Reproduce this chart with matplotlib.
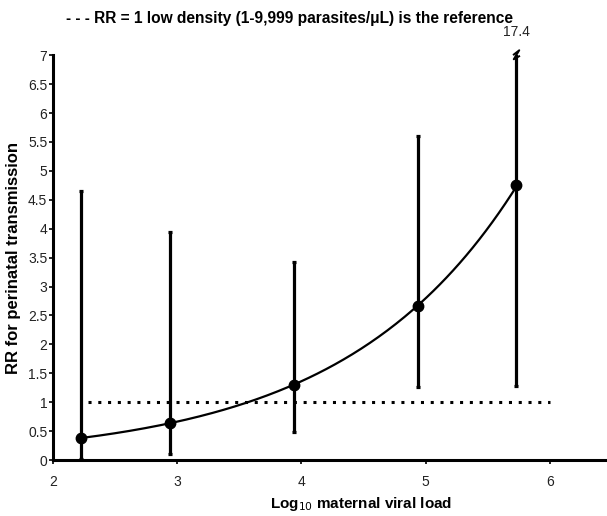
import numpy as np
import matplotlib
matplotlib.use("Agg")
import matplotlib.pyplot as plt
from matplotlib.path import Path

plt.rcParams['font.family'] = ['Liberation Sans', 'DejaVu Sans']

# log10 maternal viral load (category midpoints) and RR with 95% CI
viral_load = [2.23, 2.94, 3.94, 4.94, 5.73]
rr = [0.38, 0.64, 1.30, 2.66, 4.75]
ci_low = [0.02, 0.10, 0.48, 1.27, 1.28]
ci_high = [4.65, 3.94, 3.42, 5.60, 17.4]
ref_rr = 1.0

x = np.array(viral_load)
y = np.array(rr)

fig = plt.figure(figsize=(6.07, 5.16), dpi=100)
ax = fig.add_axes([0.087, 0.1085, 0.913, 0.7845])

# exponential trend through the estimates
b, a = np.polyfit(x, np.log(y), 1)
xs = np.linspace(x.min(), x.max(), 200)
ax.plot(xs, np.exp(a + b * xs), color='black', lw=1.6, zorder=2)

# reference line RR = 1
ax.plot([2.28, 6.0], [ref_rr, ref_rr], color='black', lw=2.2,
        linestyle=(0, (1, 2.2)), zorder=1)

yerr = [y - np.array(ci_low), np.array(ci_high) - y]
ax.errorbar(x, y, yerr=yerr, fmt='o', color='black', ms=7.5,
            elinewidth=2.3, capsize=1.5, capthick=2.3, zorder=3)

# break mark on the clipped upper CI
zig = Path([(-0.5, 0.2), (0.4, 0.9), (-0.4, -0.4), (0.5, 0.1)])
ax.plot([x[-1]], [6.98], marker=zig, ms=9, mew=1.4, color='black',
        mfc='none', clip_on=False, zorder=4)
ax.text(x[-1], 7.28, f"{ci_high[-1]:.1f}", ha='center', va='bottom',
        fontsize=10, color='#222222', clip_on=False)

ax.set_xlim(2, 6.46)
ax.set_ylim(0, 7)
ax.set_xticks([2, 3, 4, 5, 6])
ax.set_yticks(np.arange(0, 7.01, 0.5))
ax.set_yticklabels([f"{v:g}" for v in np.arange(0, 7.01, 0.5)])

for s in ['top', 'right']:
    ax.spines[s].set_visible(False)
for s in ['left', 'bottom']:
    ax.spines[s].set_linewidth(2.2)
ax.tick_params(axis='both', direction='out', length=3, width=1.2,
               labelsize=10, colors='black', labelcolor='#222222')
ax.tick_params(axis='x', pad=8)
ax.tick_params(axis='y', pad=1)

ax.set_xlabel("Log$_{10}$ maternal viral load", fontsize=11, fontweight='bold',
              x=0.556, labelpad=4)
ax.set_ylabel("RR for perinatal transmission", fontsize=12, fontweight='bold',
              y=0.5, labelpad=5)

fig.text(0.477, 0.965, "- - - RR = 1 low density (1-9,999 parasites/\u03bcL) is the reference",
         ha='center', va='center', fontsize=11.2, fontweight='bold')

fig.savefig("out.png", dpi=100)
